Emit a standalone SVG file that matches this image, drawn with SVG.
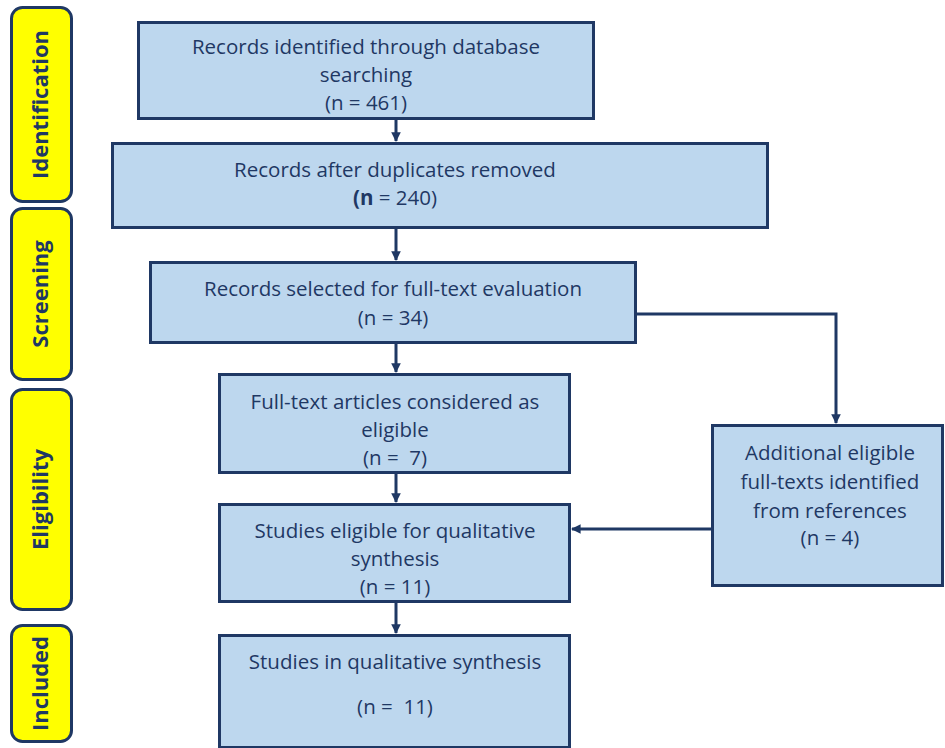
<svg xmlns="http://www.w3.org/2000/svg" width="945" height="748" viewBox="0 0 945 748">
<style>
.stage{fill:#ffff00;stroke:#1f3864;stroke-width:3}
.stxt{font-family:"Open Sans",sans-serif;font-weight:bold;font-size:22px;fill:#1f3864;text-anchor:middle}
.box{fill:#bdd7ee;stroke:#1f3864;stroke-width:3}
.t{font-family:"Open Sans",sans-serif;font-size:20.5px;fill:#1f3864;text-anchor:middle}
.c{fill:none;stroke:#1f3864;stroke-width:3}
</style>
<defs>
<marker id="ah" viewBox="0 0 10 10" refX="9" refY="5" markerWidth="3.2" markerHeight="3.2" orient="auto" markerUnits="strokeWidth">
<path d="M0,0 L10,5 L0,10 z" fill="#1f3864"/>
</marker>
</defs>
<rect width="945" height="748" fill="#ffffff"/>
<g id="stage-identification"><rect class="stage" x="11.5" y="7.5" width="60" height="194" rx="11"/><text class="stxt" transform="translate(47.5,104.5) rotate(-90)">Identification</text></g>
<g id="stage-screening"><rect class="stage" x="11.5" y="208.5" width="60" height="171" rx="11"/><text class="stxt" transform="translate(47.5,294) rotate(-90)">Screening</text></g>
<g id="stage-eligibility"><rect class="stage" x="11.5" y="389.5" width="60" height="220" rx="11"/><text class="stxt" transform="translate(47.5,499.5) rotate(-90)">Eligibility</text></g>
<g id="stage-included"><rect class="stage" x="11.5" y="625.5" width="60" height="116" rx="11"/><text class="stxt" transform="translate(47.5,683.5) rotate(-90)">Included</text></g>

<g id="connectors">
<path class="c" d="M396,118 V141" marker-end="url(#ah)"/>
<path class="c" d="M396,227 V260" marker-end="url(#ah)"/>
<path class="c" d="M396,342 V372" marker-end="url(#ah)"/>
<path class="c" d="M396,472 V502" marker-end="url(#ah)"/>
<path class="c" d="M396,601 V633" marker-end="url(#ah)"/>
<path class="c" d="M636,314 H836 V423" marker-end="url(#ah)"/>
<path class="c" d="M712,529 H572" marker-end="url(#ah)"/>
</g>

<g id="n1"><rect class="box" x="138.5" y="22.5" width="455" height="96"/>
<text class="t" x="366" y="54">Records identified through database</text>
<text class="t" x="366" y="82">searching</text>
<text class="t" x="366" y="110">(n = 461)</text></g>
<g id="n2"><rect class="box" x="112.5" y="143.5" width="655" height="84"/>
<text class="t" x="395" y="177">Records after duplicates removed</text>
<text class="t" x="395" y="205"><tspan font-weight="bold">(n</tspan> = 240)</text></g>
<g id="n3"><rect class="box" x="150.5" y="262.5" width="485" height="80"/>
<text class="t" x="393" y="296">Records selected for full-text evaluation</text>
<text class="t" x="393" y="325">(n = 34)</text></g>
<g id="n4"><rect class="box" x="219.5" y="374.5" width="350" height="98"/>
<text class="t" x="395" y="409">Full-text articles considered as</text>
<text class="t" x="395" y="437">eligible</text>
<text class="t" x="395" y="465" xml:space="preserve">(n =  7)</text></g>
<g id="n5"><rect class="box" x="219.5" y="504.5" width="350" height="97"/>
<text class="t" x="395" y="538">Studies eligible for qualitative</text>
<text class="t" x="395" y="566">synthesis</text>
<text class="t" x="395" y="594">(n = 11)</text></g>
<g id="n6"><rect class="box" x="219.5" y="635.5" width="350" height="112"/>
<text class="t" x="395" y="669">Studies in qualitative synthesis</text>
<text class="t" x="395" y="714" xml:space="preserve">(n =  11)</text></g>
<g id="n7"><rect class="box" x="712.5" y="425.5" width="230" height="160"/>
<text class="t" x="830" y="460">Additional eligible</text>
<text class="t" x="830" y="489">full-texts identified</text>
<text class="t" x="830" y="518">from references</text>
<text class="t" x="830" y="545">(n = 4)</text></g>
</svg>
